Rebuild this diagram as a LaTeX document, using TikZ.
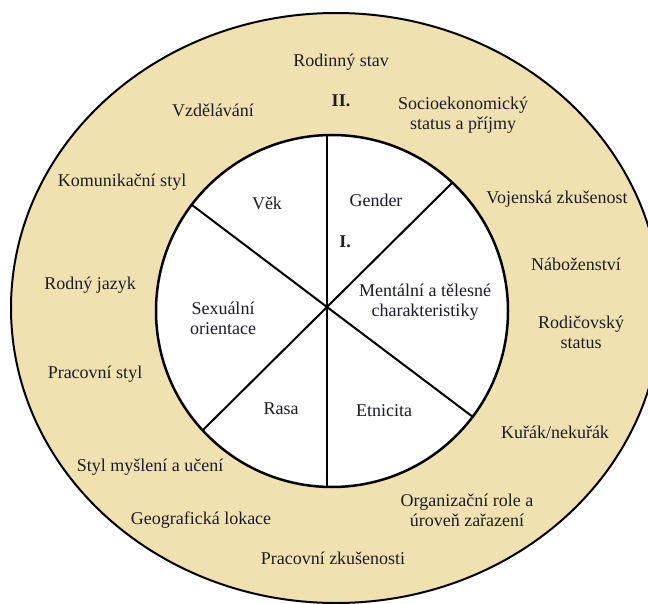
\documentclass[tikz,border=0pt]{standalone}
\usepackage{fontspec}
\setmainfont{Liberation Serif}
\definecolor{ring}{RGB}{240,226,176}
\definecolor{ink}{RGB}{28,28,40}
\begin{document}
\begin{tikzpicture}[x=1pt,y=-1pt,
  lbl/.style={font=\fontsize{18}{20}\selectfont, text=ink, align=center, inner sep=0pt},
  roman/.style={font=\fontsize{18}{20}\selectfont\bfseries, text=ink, inner sep=0pt},
  spoke/.style={line width=2pt, draw=black}]
\useasboundingbox (0,0) rectangle (648,604);
\clip (0,0) rectangle (648,604);
\draw[line width=2pt, fill=ring] (336,308) ellipse [x radius=325, y radius=295];
\draw[line width=2.5pt, fill=white] (332,311) circle [radius=176];
\coordinate (c) at (327,307);
\coordinate (e1) at (327,135);
\coordinate (e2) at (452,183);
\coordinate (e3) at (473,417);
\coordinate (e4) at (327,488);
\coordinate (e5) at (203,430);
\coordinate (e6) at (192,205);
\foreach \e in {e1,e2,e3,e4,e5,e6} \draw[spoke] (c) -- (\e);
% inner circle
\node[lbl] (vek) at (267,203) {Věk};
\node[lbl] (gender) at (376,200) {Gender};
\node[roman] (one) at (345,242) {I.};
\node[lbl] (mental) at (425,302) {Mentální a tělesné\\charakteristiky};
\node[lbl] (sex) at (223,318) {Sexuální\\orientace};
\node[lbl] (rasa) at (281,409) {Rasa};
\node[lbl] (etn) at (384,411) {Etnicita};
% outer ring
\node[lbl] (rod) at (341,62) {Rodinný stav};
\node[roman] (two) at (341,101) {II.};
\node[lbl] (vzd) at (213,110) {Vzdělávání};
\node[lbl] (soc) at (463,115) {Socioekonomický\\status a příjmy};
\node[lbl] (kom) at (122,182) {Komunikační styl};
\node[lbl] (voj) at (557,199) {Vojenská zkušenost};
\node[lbl] (nab) at (576,264) {Náboženství};
\node[lbl] (jaz) at (90,285) {Rodný jazyk};
\node[lbl] (rodic) at (581,332) {Rodičovský\\status};
\node[lbl] (pst) at (95,374) {Pracovní styl};
\node[lbl] (kur) at (555,432) {Kuřák/nekuřák};
\node[lbl] (mys) at (150,467) {Styl myšlení a učení};
\node[lbl] (org) at (467,510) {Organizační role a\\úroveň zařazení};
\node[lbl] (geo) at (201,520) {Geografická lokace};
\node[lbl] (pzk) at (333,558) {Pracovní zkušenosti};
\end{tikzpicture}
\end{document}
